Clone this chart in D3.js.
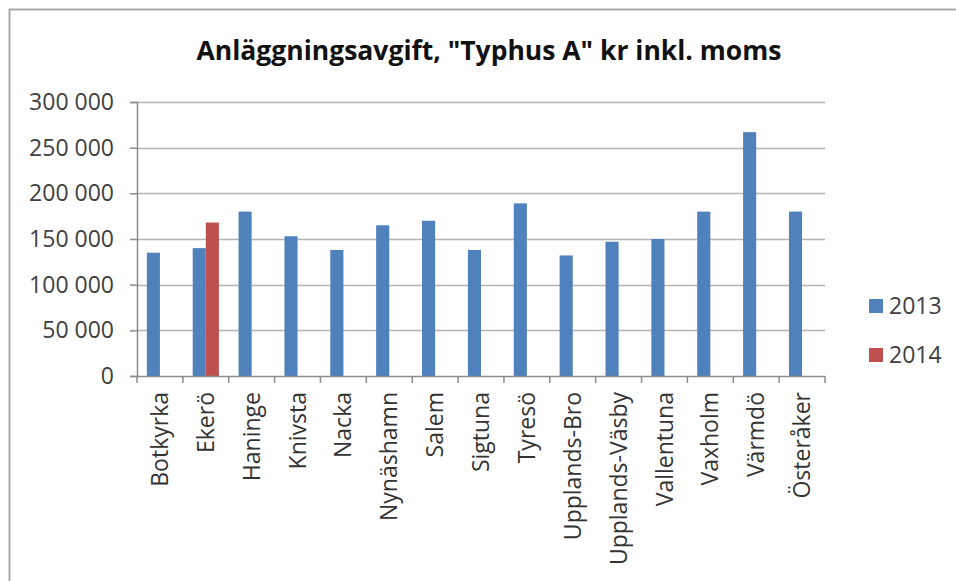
<!DOCTYPE html>
<html>
<head>
<meta charset="utf-8">
<script src="https://cdn.jsdelivr.net/npm/d3@7"></script>
<style>
  body { margin: 0; background: #fff; }
  svg { display: block; font-family: "Open Sans", sans-serif; }
</style>
</head>
<body>
<svg id="chart" width="956" height="581"></svg>
<script>
// Kommuner (kategorier) och värden per år
const kommuner = ["Botkyrka", "Ekerö", "Haninge", "Knivsta", "Nacka", "Nynäshamn", "Salem",
  "Sigtuna", "Tyresö", "Upplands-Bro", "Upplands-Väsby", "Vallentuna", "Vaxholm", "Värmdö", "Österåker"];
const years = ["2013", "2014"];
const values2013 = [135000, 140000, 180000, 153000, 138000, 165000, 170000,
  138000, 189000, 132000, 147000, 150000, 180000, 267000, 180000];
const values2014 = [null, 168000, null, null, null, null, null,
  null, null, null, null, null, null, null, null];
const yTicks = [0, 50000, 100000, 150000, 200000, 250000, 300000];
const colors = ["#4f81bd", "#c0504d"];
const title = "Anläggningsavgift, \"Typhus A\" kr inkl. moms";

// build rows for the grouped bars
const rows = kommuner.map((k, i) => ({ name: k, vals: [values2013[i], values2014[i]] }));

const svg = d3.select("#chart");

// outer frame (chart area border, runs off the right/bottom edge)
svg.append("rect")
  .attr("x", 9.5).attr("y", 9.5)
  .attr("width", 1000).attr("height", 1000)
  .attr("fill", "none")
  .attr("stroke", "#a9a9a9")
  .attr("stroke-width", 2);

const plot = { left: 137, right: 825, top: 102, bottom: 376 };

const x0 = d3.scaleBand()
  .domain(kommuner)
  .range([plot.left, plot.right])
  .paddingInner(3 / 7)
  .paddingOuter(1.5 / 7);

const x1 = d3.scaleBand()
  .domain(years)
  .range([0, x0.bandwidth()]);

const y = d3.scaleLinear()
  .domain([0, 300000])
  .range([plot.bottom, plot.top]);

const locale = d3.formatLocale({ decimal: ",", thousands: " ", grouping: [3], currency: ["", " kr"] });
const fmt = locale.format(",");

// gridlines
svg.append("g")
  .selectAll("line")
  .data(yTicks.filter(d => d > 0))
  .join("line")
  .attr("x1", plot.left).attr("x2", plot.right)
  .attr("y1", d => Math.round(y(d)) + 0.5)
  .attr("y2", d => Math.round(y(d)) + 0.5)
  .attr("stroke", "#b4b4b4")
  .attr("stroke-width", 1.5);

// y axis
const yAxis = svg.append("g")
  .attr("transform", `translate(${plot.left},0)`)
  .call(d3.axisLeft(y).tickValues(yTicks).tickFormat(fmt).tickSize(7).tickPadding(16));
yAxis.select(".domain").attr("stroke", "#8c8c8c").attr("stroke-width", 1.5);
yAxis.selectAll(".tick line").attr("stroke", "#8c8c8c").attr("stroke-width", 1.5);
yAxis.selectAll(".tick text")
  .attr("font-size", 23)
  .attr("fill", "#404040")
  .attr("font-family", "Open Sans");

// bars
svg.append("g")
  .selectAll("g")
  .data(rows)
  .join("g")
  .attr("transform", d => `translate(${x0(d.name)},0)`)
  .selectAll("rect")
  .data(d => d.vals.map((v, j) => ({ year: years[j], v: v, j: j })).filter(e => e.v != null))
  .join("rect")
  .attr("x", e => x1(e.year))
  .attr("width", x1.bandwidth())
  .attr("y", e => y(e.v))
  .attr("height", e => y(0) - y(e.v))
  .attr("fill", e => colors[e.j]);

// x axis (ticks between categories)
const xAxisG = svg.append("g")
  .attr("transform", `translate(0,${plot.bottom})`);
xAxisG.append("line")
  .attr("x1", plot.left).attr("x2", plot.right)
  .attr("y1", 0.5).attr("y2", 0.5)
  .attr("stroke", "#8c8c8c").attr("stroke-width", 1.5);
const step = x0.step();
xAxisG.selectAll(".xtick")
  .data(d3.range(kommuner.length + 1))
  .join("line")
  .attr("class", "xtick")
  .attr("x1", i => plot.left + i * step)
  .attr("x2", i => plot.left + i * step)
  .attr("y1", 0).attr("y2", 7)
  .attr("stroke", "#8c8c8c").attr("stroke-width", 1.5);
xAxisG.selectAll(".xlabel")
  .data(kommuner)
  .join("text")
  .attr("class", "xlabel")
  .attr("transform", d => `translate(${x0(d) + x0.bandwidth() / 2},16) rotate(-90)`)
  .attr("text-anchor", "end")
  .attr("dy", "0.35em")
  .attr("font-size", 23)
  .attr("fill", "#333")
  .text(d => d);

// title
svg.append("text")
  .attr("x", 489)
  .attr("y", 60)
  .attr("text-anchor", "middle")
  .attr("font-size", 26.5)
  .attr("font-weight", "bold")
  .attr("fill", "#111")
  .text(title);

// legend
const legend = svg.append("g")
  .selectAll("g")
  .data(years)
  .join("g")
  .attr("transform", (d, i) => `translate(869,${299 + i * 49})`);
legend.append("rect")
  .attr("width", 14).attr("height", 14)
  .attr("fill", (d, i) => colors[i]);
legend.append("text")
  .attr("x", 20).attr("y", 7)
  .attr("dy", "0.35em")
  .attr("font-size", 23)
  .attr("fill", "#404040")
  .text(d => d);
</script>
</body>
</html>
